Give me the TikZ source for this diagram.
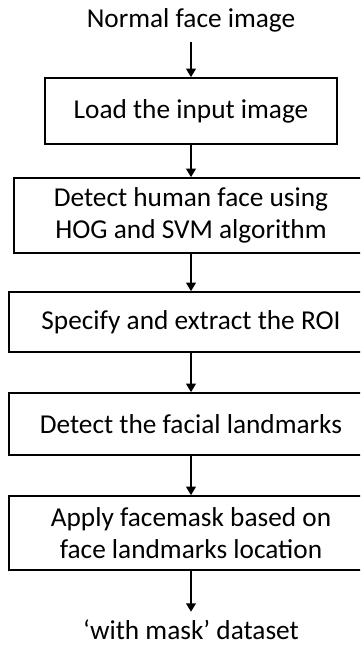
\documentclass[tikz,border=0pt]{standalone}
\usepackage{fontspec}
\setmainfont{Carlito}
\usetikzlibrary{arrows.meta}
\begin{document}
\begin{tikzpicture}[x=1pt,y=-1pt,
  stepbox/.style={draw=black, line width=1.6pt, fill=white, inner sep=0pt, align=center,
    font=\fontsize{27.3}{32}\selectfont},
  label/.style={inner sep=0pt, text height=18pt, text depth=0pt, anchor=base,
    font=\fontsize{27.3}{32}\selectfont},
  arr/.style={line width=2.6pt, -{Triangle[width=9.5pt,length=8.5pt]}}]
\useasboundingbox (0,0) rectangle (360,648);
\clip (0,0) rectangle (360,648);
\node[label] (top) at (191,27) {Normal face image};
\node[stepbox, minimum width=292pt, minimum height=66pt] (b1) at (191,111) {Load the input image};
\node[stepbox, minimum width=354pt, minimum height=75pt] (b2) at (191,215.5) {Detect human face using\\HOG and SVM algorithm};
\node[stepbox, minimum width=364pt, minimum height=60pt] (b3) at (191,322) {Specify and extract the ROI};
\node[stepbox, minimum width=364pt, minimum height=62pt] (b4) at (191,424) {Detect the facial landmarks};
\node[stepbox, minimum width=364pt, minimum height=74pt] (b5) at (191,533) {Apply facemask based on\\face landmarks location};
\node[label] (bot) at (191,639) {‘with mask’ dataset};
\draw[arr, shorten <=15pt] (top.south) -- (b1.north);
\draw[arr] (b1) -- (b2);
\draw[arr] (b2) -- (b3);
\draw[arr] (b3) -- (b4);
\draw[arr] (b4) -- (b5);
\draw[arr, shorten >=9pt] (b5.south) -- (bot.north);
\end{tikzpicture}
\end{document}
